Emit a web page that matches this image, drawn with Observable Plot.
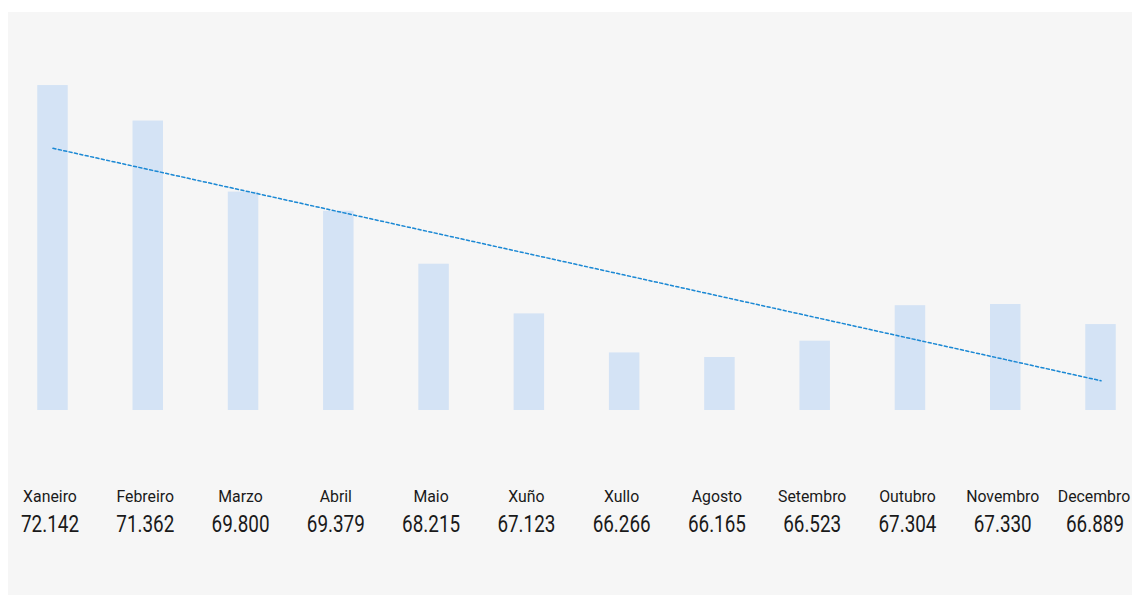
<!DOCTYPE html>
<html>
<head>
<meta charset="utf-8">
<script src="https://cdn.jsdelivr.net/npm/d3@7"></script>
<script src="https://cdn.jsdelivr.net/npm/@observablehq/plot@0.6"></script>
<style>
  html, body { margin: 0; padding: 0; background: #ffffff; overflow: hidden; }
  #panel { position: absolute; left: 8px; top: 12px; width: 1124px; height: 583px; background: #f6f6f6; overflow: hidden; }
  #panel svg { display: block; background: transparent; max-width: none !important; }
</style>
</head>
<body>
<div id="panel"></div>
<script>
const months = ["Xaneiro","Febreiro","Marzo","Abril","Maio","Xuño","Xullo","Agosto","Setembro","Outubro","Novembro","Decembro"];
const values = [72.142, 71.362, 69.800, 69.379, 68.215, 67.123, 66.266, 66.165, 66.523, 67.304, 67.330, 66.889];
const valueLabels = ["72.142","71.362","69.800","69.379","68.215","67.123","66.266","66.165","66.523","67.304","67.330","66.889"];

const data = months.map((m, i) => ({month: m, value: values[i], label: valueLabels[i], i}));
const inner = data.slice(0, -1), last = data.slice(-1);

// least-squares trend line computed from the values
const mx = d3.mean(data, d => d.i), my = d3.mean(values);
const slope = d3.sum(data, d => (d.i - mx) * (d.value - my)) / d3.sum(data, d => (d.i - mx) ** 2);
const trend = data.map(d => ({month: d.month, value: my + slope * (d.i - mx)}));

const font = "Roboto, 'Noto Sans', sans-serif";
const nameStyle = {x: "month", text: "month", frameAnchor: "bottom", lineAnchor: "bottom", dy: -93.3, fontSize: 16.5, fill: "#1a1a1a", className: "month-label"};
const valueStyle = {x: "month", text: "label", frameAnchor: "bottom", lineAnchor: "bottom", dy: -63.7, fontSize: 24.5, fill: "#1a1a1a", className: "value-label"};

const chart = Plot.plot({
  width: 1137,
  height: 583,
  marginLeft: 0, marginRight: 0, marginTop: 0, marginBottom: 0,
  style: {background: "transparent", fontFamily: font, overflow: "visible", maxWidth: "none"},
  x: {domain: months, range: [0, 1137], paddingInner: 0.68, paddingOuter: 0.307, round: false, axis: null},
  y: {domain: [65, 73.5], range: [398, 11.25], axis: null},
  marks: [
    Plot.barY(data, {x: "month", y1: 65, y2: "value", fill: "#d4e3f5"}),
    Plot.line(trend, {x: "month", y: "value", stroke: "#1a88d4", strokeWidth: 1.5, strokeDasharray: "3,2.5"}),
    Plot.text(inner, {...nameStyle, dx: -3}),
    Plot.text(inner, {...valueStyle, dx: -3}),
    Plot.text(last, {...nameStyle, dx: -7}),
    Plot.text(last, {...valueStyle, dx: -6})
  ]
});
// condense the labels horizontally to match the narrow figures of the original
chart.querySelectorAll(".value-label text").forEach(t => {
  t.setAttribute("transform", (t.getAttribute("transform") || "") + " scale(0.77,1)");
});
chart.querySelectorAll(".month-label text").forEach(t => {
  t.setAttribute("transform", (t.getAttribute("transform") || "") + " scale(0.96,1)");
});
document.getElementById("panel").appendChild(chart);
</script>
</body>
</html>
